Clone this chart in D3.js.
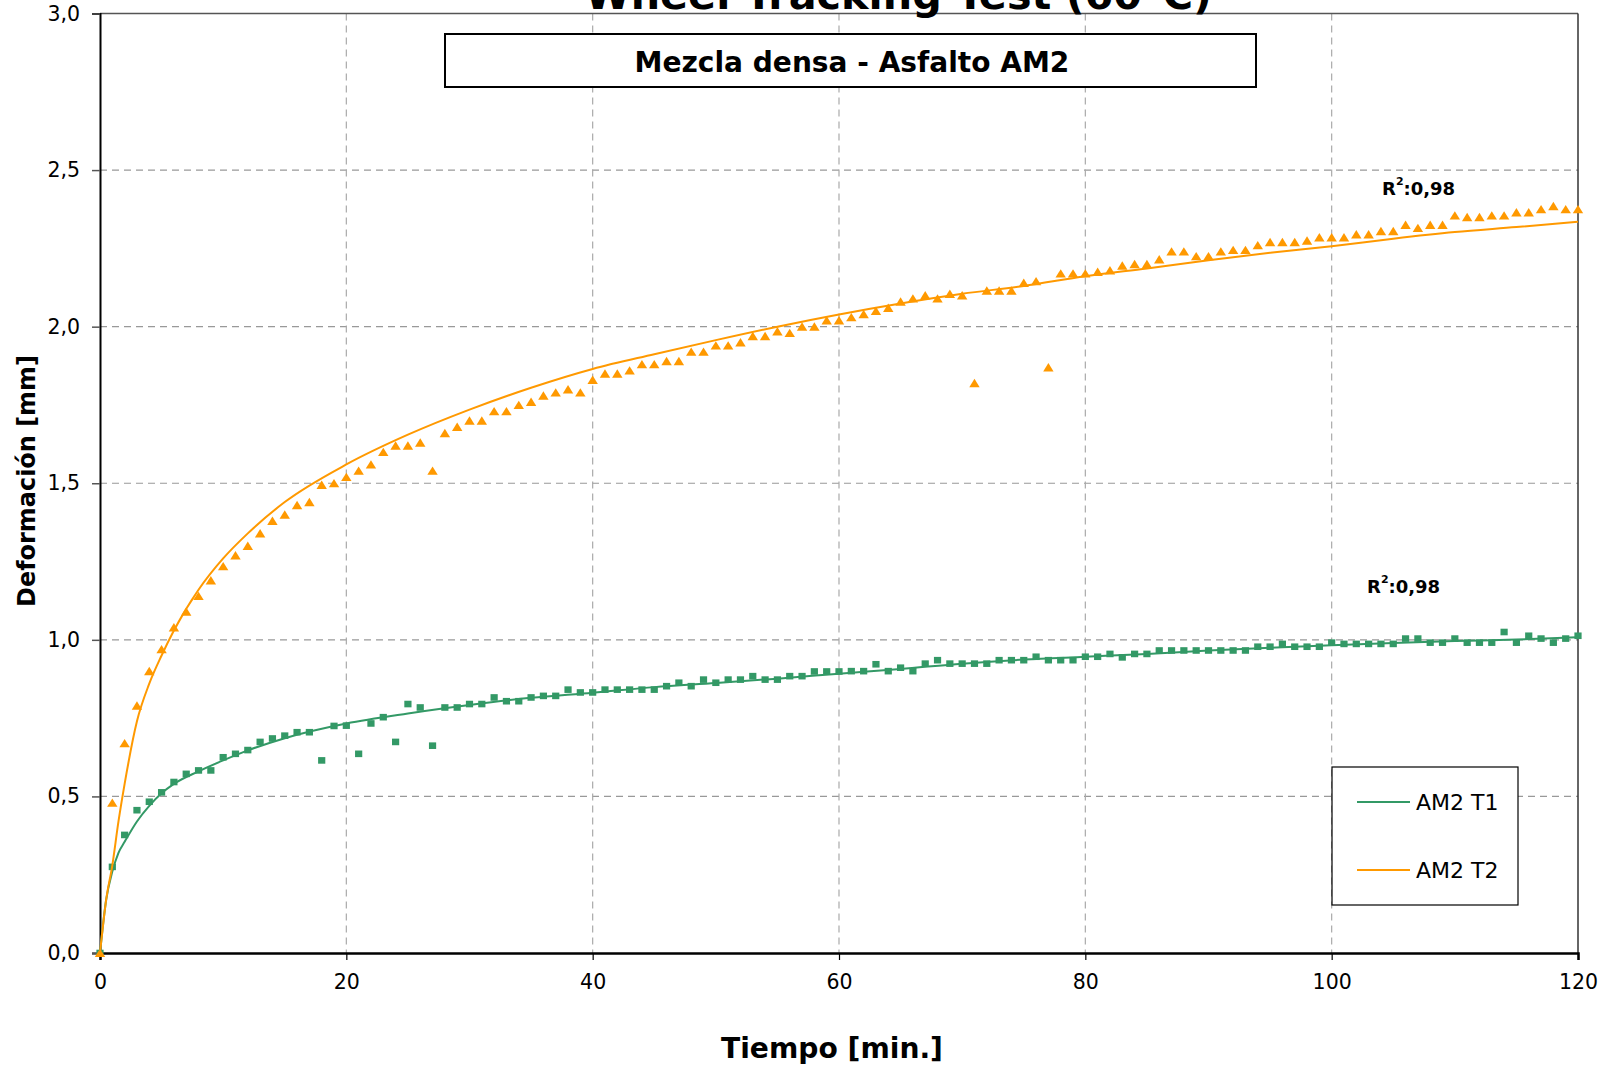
<!DOCTYPE html>
<html>
<head>
<meta charset="utf-8">
<script src="https://cdn.jsdelivr.net/npm/d3@7"></script>
<style>
  html, body { margin: 0; padding: 0; background: #ffffff; }
  svg { display: block; }
  text { font-family: "DejaVu Sans", Verdana, sans-serif; fill: #000; }
</style>
</head>
<body>
<svg id="chart" width="1616" height="1065"></svg>
<script>
// ---------------- DATA ----------------
const tiempo = [0,1,2,3,4,5,6,7,8,9,10,11,12,13,14,15,16,17,18,19,20,21,22,23,24,25,26,27,28,29,
  30,31,32,33,34,35,36,37,38,39,40,41,42,43,44,45,46,47,48,49,50,51,52,53,54,55,56,57,58,59,
  60,61,62,63,64,65,66,67,68,69,70,71,72,73,74,75,76,77,78,79,80,81,82,83,84,85,86,87,88,89,
  90,91,92,93,94,95,96,97,98,99,100,101,102,103,104,105,106,107,108,109,110,111,112,113,114,115,116,117,118,119,120];

// AM2 T1 measured deformation (mm)
const am2T1 = [0,0.275,0.377,0.456,0.483,0.513,0.546,0.572,0.583,0.583,
  0.625,0.636,0.648,0.674,0.685,0.694,0.705,0.705,0.615,0.725,
  0.726,0.636,0.733,0.753,0.674,0.795,0.784,0.662,0.784,0.784,
  0.795,0.795,0.816,0.804,0.804,0.816,0.821,0.821,0.841,0.832,
  0.832,0.841,0.841,0.841,0.841,0.841,0.852,0.863,0.852,0.873,
  0.863,0.873,0.873,0.884,0.873,0.873,0.884,0.884,0.899,0.899,
  0.899,0.900,0.900,0.922,0.900,0.911,0.900,0.924,0.935,0.924,
  0.924,0.924,0.924,0.935,0.935,0.935,0.946,0.935,0.935,0.935,
  0.946,0.946,0.955,0.944,0.955,0.955,0.966,0.966,0.966,0.966,
  0.966,0.966,0.966,0.966,0.978,0.978,0.987,0.978,0.978,0.978,
  0.991,0.987,0.987,0.987,0.987,0.987,1.004,1.004,0.991,0.991,
  1.004,0.991,0.991,0.991,1.025,0.991,1.013,1.004,0.991,1.004,
  1.013];

// AM2 T2 measured deformation (mm)
const am2T2 = [0,0.48,0.67,0.79,0.90,0.97,1.04,1.09,1.14,1.19,
  1.235,1.27,1.30,1.34,1.38,1.40,1.43,1.44,1.495,1.50,
  1.52,1.54,1.56,1.60,1.62,1.62,1.63,1.54,1.66,1.68,
  1.70,1.70,1.73,1.73,1.75,1.76,1.78,1.79,1.80,1.79,
  1.83,1.85,1.85,1.86,1.88,1.88,1.89,1.89,1.92,1.92,
  1.94,1.94,1.95,1.97,1.97,1.985,1.98,2.00,2.00,2.02,
  2.02,2.03,2.04,2.05,2.06,2.08,2.09,2.10,2.09,2.105,
  2.10,1.82,2.115,2.115,2.115,2.14,2.145,1.87,2.17,2.17,
  2.17,2.175,2.18,2.195,2.20,2.20,2.215,2.24,2.24,2.225,
  2.225,2.24,2.245,2.245,2.26,2.27,2.27,2.27,2.275,2.285,
  2.285,2.285,2.295,2.295,2.305,2.305,2.325,2.315,2.325,2.325,
  2.355,2.35,2.35,2.355,2.355,2.365,2.365,2.375,2.385,2.375,
  2.375];

// Trend (fit) curves
const trendTiempo = [0,0.5,1,1.5,2,3,4,5,6,8,10,12,15,20,25,30,35,40,45,50,55,60,65,70,75,80,85,90,95,100,105,110,115,120];
const trendT1 = [0,0.17,0.26,0.32,0.355,0.42,0.47,0.51,0.54,0.58,0.615,0.647,0.686,0.733,0.765,0.792,0.815,0.831,0.849,0.862,0.876,0.892,0.907,0.924,0.937,0.946,0.955,0.966,0.975,0.983,0.99,0.996,1.001,1.008];
const trendT2 = [0,0.17,0.28,0.42,0.54,0.74,0.86,0.95,1.03,1.16,1.26,1.34,1.44,1.56,1.655,1.735,1.805,1.865,1.912,1.957,2.0,2.039,2.074,2.105,2.13,2.161,2.186,2.212,2.236,2.257,2.281,2.302,2.318,2.335];

const xTicks = [0,20,40,60,80,100,120];
const yTicks = [0,0.5,1,1.5,2,2.5,3];
const seriesNames = ["AM2 T1","AM2 T2"];
const r2Labels = ["0,98","0,98"];
const titleText = "Wheel Tracking Test (60°C)";
const subtitleText = "Mezcla densa - Asfalto AM2";
const xTitle = "Tiempo [min.]";
const yTitle = "Deformación [mm]";

// ---------------- LAYOUT ----------------
const colT1 = "#339966", colT2 = "#FF9900";
const svg = d3.select("#chart");
const L = 100, R = 1578, T = 13.5, B = 953;
const x = d3.scaleLinear().domain([0,120]).range([L,R]);
const y = d3.scaleLinear().domain([0,3]).range([B,T]);

function fitText(sel, target) {
  const n = sel.node();
  const w = n.getComputedTextLength();
  const fs = parseFloat(sel.attr("font-size"));
  if (w > 0) sel.attr("font-size", (fs * target / w).toFixed(2));
}

// gridlines
svg.append("g").selectAll("line").data(yTicks.filter(v => v > 0 && v < 3)).join("line")
  .attr("x1", L).attr("x2", R).attr("y1", d => y(d)).attr("y2", d => y(d))
  .attr("stroke", "#999").attr("stroke-width", 1.2).attr("stroke-dasharray", "7,5");
svg.append("g").selectAll("line").data(xTicks.filter(v => v > 0 && v < 120)).join("line")
  .attr("x1", d => x(d)).attr("x2", d => x(d)).attr("y1", T).attr("y2", B)
  .attr("stroke", "#aaa").attr("stroke-width", 1.2).attr("stroke-dasharray", "7,5");

// frame
svg.append("line").attr("x1", L).attr("x2", R).attr("y1", T).attr("y2", T).attr("stroke", "#555").attr("stroke-width", 1.5);
svg.append("line").attr("x1", R).attr("x2", R).attr("y1", T).attr("y2", B).attr("stroke", "#333").attr("stroke-width", 1.5);

// axes
const yAxis = d3.axisLeft(y).tickValues(yTicks).tickSize(8).tickPadding(12)
  .tickFormat(d => d3.format(".1f")(d).replace(".", ","));
const gy = svg.append("g").attr("transform", `translate(${L},0)`).call(yAxis);
gy.select(".domain").attr("stroke", "#000").attr("stroke-width", 2);
gy.selectAll(".tick line").attr("stroke", "#555").attr("stroke-width", 1.5);
gy.selectAll(".tick text").attr("font-family", "DejaVu Sans").attr("font-size", 20.5).attr("fill", "#000");

const xAxis = d3.axisBottom(x).tickValues(xTicks).tickSize(7).tickPadding(14).tickFormat(d3.format("d"));
const gx = svg.append("g").attr("transform", `translate(0,${B})`).call(xAxis);
gx.select(".domain").attr("stroke", "#000").attr("stroke-width", 2.5);
gx.selectAll(".tick line").attr("stroke", "#000").attr("stroke-width", 1.2);
gx.selectAll(".tick text").attr("font-family", "DejaVu Sans").attr("font-size", 20.5).attr("fill", "#000");

// title (cut at the top like the original)
const tt = svg.append("text").attr("x", 898.5).attr("y", 9).attr("text-anchor", "middle")
  .attr("font-size", 38).attr("font-weight", "bold").text(titleText);
fitText(tt, 627);

// subtitle box
svg.append("rect").attr("x", 445).attr("y", 34).attr("width", 811).attr("height", 53)
  .attr("fill", "#fff").attr("stroke", "#000").attr("stroke-width", 2);
const st = svg.append("text").attr("x", 852).attr("y", 62).attr("text-anchor", "middle")
  .attr("dominant-baseline", "central").attr("font-size", 25).attr("font-weight", "bold").text(subtitleText);
fitText(st, 435);

// axis titles
const yt = svg.append("text").attr("transform", "translate(35,481) rotate(-90)").attr("text-anchor", "middle")
  .attr("font-size", 22).attr("font-weight", "bold").text(yTitle);
fitText(yt, 252);
const xt = svg.append("text").attr("x", 832).attr("y", 1058).attr("text-anchor", "middle")
  .attr("font-size", 22).attr("font-weight", "bold").text(xTitle);
fitText(xt, 222);

// markers
const pts1 = tiempo.map((t, i) => ({t, v: am2T1[i]}));
const pts2 = tiempo.map((t, i) => ({t, v: am2T2[i]}));
svg.append("g").selectAll("rect").data(pts1).join("rect")
  .attr("x", d => x(d.t) - 3.6).attr("y", d => y(d.v) - 3.3)
  .attr("width", 7.2).attr("height", 6.6).attr("fill", colT1);
svg.append("g").selectAll("path").data(pts2).join("path")
  .attr("d", d => {
    const cx = x(d.t), cy = y(d.v);
    return `M${cx - 5.2},${cy + 4.1}L${cx + 5.2},${cy + 4.1}L${cx},${cy - 4.3}Z`;
  })
  .attr("fill", colT2);

// trend lines
const line = d3.line().x(d => x(d[0])).y(d => y(d[1])).curve(d3.curveMonotoneX);
svg.append("path").datum(trendTiempo.map((t, i) => [t, trendT1[i]]))
  .attr("d", line).attr("fill", "none").attr("stroke", colT1).attr("stroke-width", 2);
svg.append("path").datum(trendTiempo.map((t, i) => [t, trendT2[i]]))
  .attr("d", line).attr("fill", "none").attr("stroke", colT2).attr("stroke-width", 2);

// R² labels
function r2(xp, yp, val) {
  const t = svg.append("text").attr("x", xp).attr("y", yp).attr("dominant-baseline", "central")
    .attr("font-size", 18).attr("font-weight", "bold");
  t.append("tspan").text("R");
  t.append("tspan").attr("font-size", 11).attr("dy", -7).text("2");
  t.append("tspan").attr("dy", 7).text(":" + val);
}
r2(1382, 188, r2Labels[1]);
r2(1367, 586, r2Labels[0]);

// legend
svg.append("rect").attr("x", 1332).attr("y", 767).attr("width", 186).attr("height", 138)
  .attr("fill", "#fff").attr("stroke", "#000").attr("stroke-width", 1.2);
const legY = [802, 870];
const legCol = [colT1, colT2];
seriesNames.forEach((n, i) => {
  svg.append("line").attr("x1", 1357).attr("x2", 1410).attr("y1", legY[i]).attr("y2", legY[i])
    .attr("stroke", legCol[i]).attr("stroke-width", 2);
  svg.append("text").attr("x", 1416).attr("y", legY[i]).attr("dominant-baseline", "central")
    .attr("font-size", 22).text(n);
});
</script>
</body>
</html>
